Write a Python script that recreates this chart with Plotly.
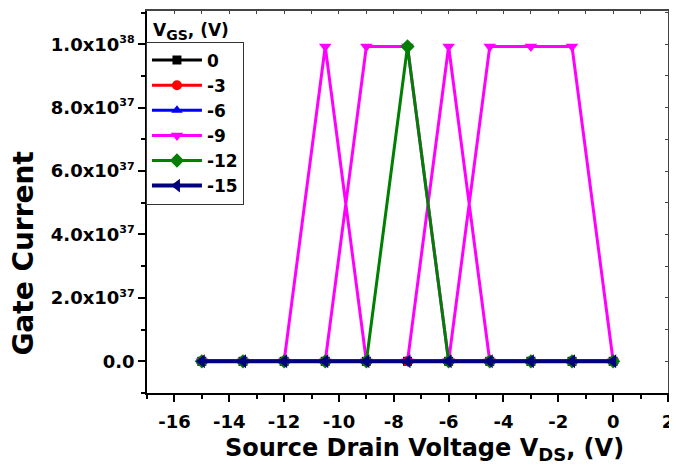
import plotly.graph_objects as go

# ---- data ----
vds = [-15, -13.5, -12, -10.5, -9, -7.5, -6, -4.5, -3, -1.5, 0]
TOP = 9.93e37
ig_0 = [0, 0, 0, 0, 0, 0, 0, 0, 0, 0, 0]
ig_m3 = [0, 0, 0, 0, 0, 0, 0, 0, 0, 0, 0]
ig_m6 = [0, 0, 0, 0, 0, 0, 0, 0, 0, 0, 0]
# -9 V series (points in recorded order, some x values repeat)
vds_m9 = [-15, -13.5, -12, -10.5, -9, -10.5, -9, -7.5, -6, -7.5, -6, -4.5, -6, -4.5, -3, -1.5, 0]
ig_m9 = [0, 0, 0, TOP, 0, 0, TOP, TOP, 0, 0, TOP, 0, 0, TOP, TOP, TOP, 0]
ig_m12 = [0, 0, 0, 0, 0, TOP, 0, 0, 0, 0, 0]
ig_m15 = [0, 0, 0, 0, 0, 0, 0, 0, 0, 0, 0]

ytick_vals = [0, 2e37, 4e37, 6e37, 8e37, 1e38]
ytick_mant = ["0.0", "2.0", "4.0", "6.0", "8.0", "1.0"]
ytick_exp = [None, "37", "37", "37", "37", "38"]
xtick_vals = [-16, -14, -12, -10, -8, -6, -4, -2, 0, 2]
xtick_text = ["-16", "-14", "-12", "-10", "-8", "-6", "-4", "-2", "0", "2"]

FONT = "DejaVu Sans, Liberation Sans, sans-serif"

ytick_text = [m if e is None else
              m + "x10<sup><span style='font-size:11px'>" + e + "</span></sup>"
              for m, e in zip(ytick_mant, ytick_exp)]

series = [
    ("0", vds, ig_0, "black", "square", 9),
    ("-3", vds, ig_m3, "red", "circle", 10),
    ("-6", vds, ig_m6, "blue", "triangle-up", 10),
    ("-9", vds_m9, ig_m9, "magenta", "triangle-down", 11),
    ("-12", vds, ig_m12, "green", "diamond", 11),
    ("-15", vds, ig_m15, "#000080", "triangle-left", 12),
]

fig = go.Figure()
for name, xs, ys, col, sym, ms in series:
    fig.add_trace(go.Scatter(
        x=xs, y=ys, name=name, mode="lines+markers",
        line=dict(color=col, width=4 if name == "-15" else 3),
        marker=dict(symbol=sym, size=ms, color=col),
    ))

# helper trace for the inward mirror ticks on top/right
fig.add_trace(go.Scatter(x=[None], y=[None], xaxis="x2", yaxis="y2", showlegend=False))

# page body has an 8px margin, so the figure is sized/offset to fill the window
fig.update_layout(
    width=669, height=458,
    margin=dict(l=139, r=9, t=3, b=73),
    plot_bgcolor="white", paper_bgcolor="white",
    font=dict(family=FONT, color="black"),
    showlegend=True,
    legend=dict(
        x=-0.002, y=0.92, xanchor="left", yanchor="top",
        bordercolor="#333", borderwidth=1, bgcolor="white",
        font=dict(size=17, family=FONT, weight="bold"),
        tracegroupgap=0, itemwidth=50,
    ),
    xaxis=dict(
        range=[-17, 2], tickvals=xtick_vals, ticktext=xtick_text, automargin=False,
        ticks="outside", ticklen=7, tickwidth=1.5, ticklabelstandoff=5,
        tickcolor="black", showline=True, linecolor="black", linewidth=1.5,
        showgrid=False, zeroline=False,
        minor=dict(dtick=1, tick0=0, ticks="outside", ticklen=4, tickcolor="black", showgrid=False),
        tickfont=dict(size=18, family=FONT, weight="bold"),
    ),
    yaxis=dict(
        range=[-1e37, 1.105e38], tickvals=ytick_vals, ticktext=ytick_text, automargin=False,
        ticks="outside", ticklen=7, tickwidth=1.5, tickcolor="black",
        showline=True, linecolor="black", linewidth=1.5,
        showgrid=False, zeroline=False,
        minor=dict(dtick=1e37, tick0=0, ticks="outside", ticklen=4, tickcolor="black", showgrid=False),
        tickfont=dict(size=18, family=FONT, weight="bold"),
    ),
    xaxis2=dict(
        overlaying="x", side="top", range=[-17, 2], tickvals=xtick_vals, automargin=False,
        showticklabels=False, ticks="inside", ticklen=3, tickcolor="#444",
        showline=True, linecolor="#444", linewidth=1.5, showgrid=False, zeroline=False,
        minor=dict(dtick=1, tick0=0, ticks="inside", ticklen=3, tickcolor="#444", showgrid=False),
    ),
    yaxis2=dict(
        overlaying="y", side="right", range=[-1e37, 1.105e38], tickvals=ytick_vals, automargin=False,
        showticklabels=False, ticks="inside", ticklen=3, tickcolor="#444",
        showline=True, linecolor="#444", linewidth=1.5, showgrid=False, zeroline=False,
        minor=dict(dtick=1e37, tick0=0, ticks="inside", ticklen=3, tickcolor="#444", showgrid=False),
    ),
    annotations=[
        dict(text="V<sub><span style='font-size:14px'>GS</span></sub>, (V)",
             xref="paper", yref="paper", x=0.008, y=0.946,
             xanchor="left", yanchor="middle", showarrow=False,
             font=dict(size=17, family=FONT, weight="bold", color="black")),
        dict(text="Source Drain Voltage V<sub><span style='font-size:18px'>DS</span></sub>, (V)",
             xref="paper", yref="paper", x=0.532, y=-0.149,
             xanchor="center", yanchor="middle", showarrow=False,
             font=dict(size=24, family=FONT, weight="bold", color="black")),
        dict(text="Gate Current", textangle=-90,
             xref="paper", yref="paper", x=-0.2715, y=0.365,
             xanchor="left", yanchor="middle", showarrow=False,
             font=dict(size=28, family=FONT, weight="bold", color="black")),
    ],
)

fig.write_html("out.html")
